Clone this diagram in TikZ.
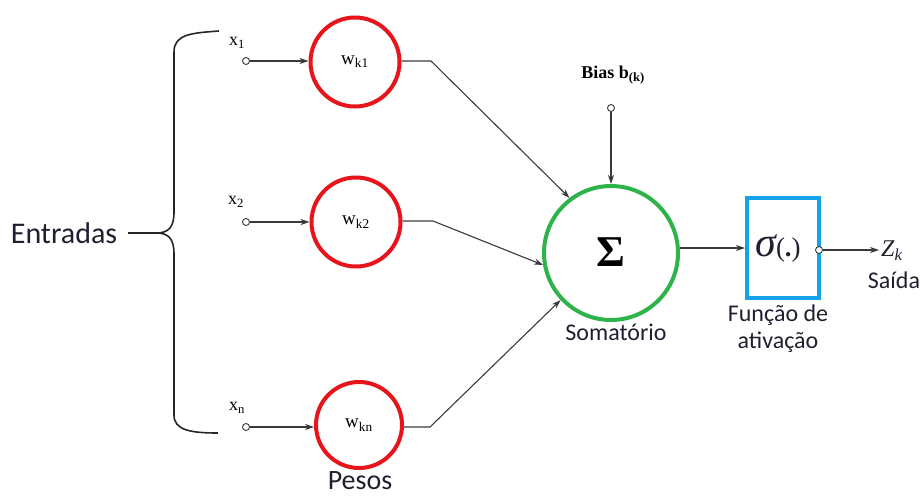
\documentclass[tikz,border=0pt]{standalone}
\usepackage{fontspec}
\setmainfont{Liberation Serif}
\newfontfamily\calib{Carlito}
\usetikzlibrary{arrows.meta}
\definecolor{cred}{HTML}{E8141C}
\definecolor{cgreen}{HTML}{2DB34A}
\definecolor{cblue}{HTML}{13A3E6}
\definecolor{cline}{HTML}{3A3A3A}
\definecolor{ctext}{HTML}{1E2030}
\begin{document}
\begin{tikzpicture}[x=1pt,y=-1pt,
 weight/.style={circle,draw=cred,line width=4pt,minimum size=89pt,inner sep=0pt,font=\fontsize{19}{22}\selectfont},
 conn/.style={draw=cline,line width=1.1pt,-{Stealth[length=9pt,width=6pt]}},
 inp/.style={circle,draw=cline,fill=white,line width=0.9pt,minimum size=7pt,inner sep=0pt},
 lbl/.style={font=\calib\fontsize{24}{27}\selectfont,text=ctext},
 biglbl/.style={font=\calib\fontsize{30}{34}\selectfont,text=ctext},
 var/.style={font=\fontsize{18}{20}\selectfont}]
\useasboundingbox (0,0) rectangle (920,495);

% weights
\node[weight] (w1) at (355,62) {w\textsubscript{k1}};
\node[weight] (w2) at (356,222) {w\textsubscript{k2}};
\node[weight,minimum size=86pt] (wn) at (359,425) {w\textsubscript{kn}};

% inputs
\node[inp] (i1) at (246,61) {};
\node[inp] (i2) at (246,222) {};
\node[inp] (in) at (246,427) {};
\node[var] (x1) at (237,43) {x\textsubscript{1}};
\node[var] (x2) at (236,202) {x\textsubscript{2}};
\node[var] (xn) at (237,408) {x\textsubscript{n}};
\draw[conn] (i1) -- (w1.west |- i1);
\draw[conn] (i2) -- (w2.west |- i2);
\draw[conn] (in) -- (wn.west |- in);

% summation
\node[circle,draw=cgreen,line width=4pt,minimum size=134pt,inner sep=0pt] (s) at (611,253) {};
\node[font=\bfseries\fontsize{44}{46}\selectfont] (sig) at (611,252) {Σ};

\coordinate (b1) at (431,61);
\coordinate (b2) at (433,221);
\coordinate (bn) at (430,427);
\draw[conn] (w1.east |- b1) -- (b1) -- (s.127);
\draw[conn] (w2.east |- b2) -- (b2) -- (s.190);
\draw[conn] (wn.east |- bn) -- (bn) -- (s.223);

% bias
\node[font=\bfseries\fontsize{18}{20}\selectfont] (bias) at (613,75) {Bias b\textsubscript{(k)}};
\node[inp] (bin) at (611,108) {};
\draw[conn] (bin) -- (s.north);

% activation
\node[rectangle,draw=cblue,line width=4pt,minimum width=72pt,minimum height=100pt,inner sep=0pt] (act) at (783,248) {};
\node[inner sep=0pt,text=ctext] (sigma) at (778,249) {\fontsize{42}{44}\selectfont\itshape σ\upshape\fontsize{27}{28}\selectfont(\textbf{.})};
\draw[conn] (s.east |- act.west) -- (act.west);
\node[inp] (out) at (819,250) {};
\node[anchor=west,inner sep=2pt,font=\fontsize{24}{26}\selectfont\itshape,text=ctext] (zk) at (879,251) {Z\textsubscript{k}};
\draw[conn] (out) -- (zk.west |- out);
\node[lbl] (said) at (894,280) {Saída};

% labels
\node[lbl] (somat) at (616,332) {Somatório};
\node[lbl,align=center] (func) at (778,329) {Função de\\ativação};
\node[biglbl,font=\calib\fontsize{28}{32}\selectfont,anchor=base,inner sep=0pt] (pesos) at (360,489) {Pesos};
\node[biglbl] (ent) at (64,233) {Entradas};

% brace
\draw[line width=1.6pt,draw=black!85]
 (219,31) .. controls (192,33) and (174,34) .. (174,52) -- (174,212)
 .. controls (174,228) and (168,233) .. (156,233) -- (128,233);
\draw[line width=1.6pt,draw=black!85]
 (156,233) .. controls (168,233) and (174,238) .. (174,254) -- (174,415)
 .. controls (174,430) and (190,433) .. (218,433);
\end{tikzpicture}
\end{document}
